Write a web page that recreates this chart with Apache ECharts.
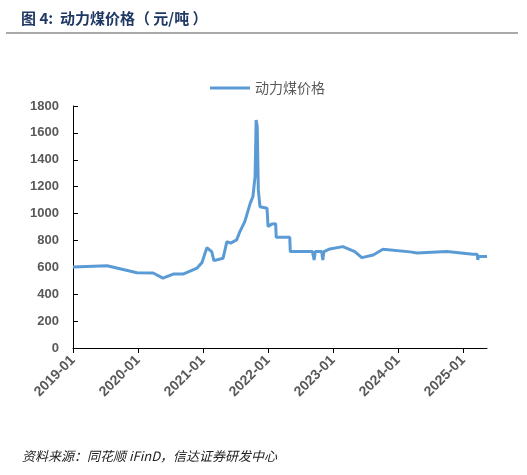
<!DOCTYPE html>
<html>
<head>
<meta charset="utf-8">
<script src="https://cdn.jsdelivr.net/npm/echarts@6/dist/echarts.min.js"></script>
<style>
html,body{margin:0;padding:0;background:#fff}
#chart{width:527px;height:475px}
</style>
</head>
<body>
<div id="chart"></div>
<script>
// months since 2019-01
const months = [0, 6.3, 11.8, 14.8, 16.6, 18.5, 20.3, 22.9, 23.8, 24.7, 25.6, 26, 27.7, 28.4, 29.1, 30.2, 30.8, 31.7, 32.7, 33.2, 33.6, 33.8, 34, 34.2, 34.5, 35.8, 36, 36.7, 37.4, 37.5, 40, 40.1, 44.2, 44.3, 44.5, 44.7, 45.9, 46.1, 46.3, 47.4, 49.8, 52, 53.3, 55.4, 57.2, 62.2, 63.5, 69, 73.8, 74.6, 74.7, 74.8, 76.4]
const prices = [603, 612, 560, 558, 520, 550, 550, 595, 635, 746, 717, 650, 668, 791, 780, 804, 866, 940, 1076, 1126, 1275, 1696, 1646, 1176, 1051, 1040, 903, 923, 924, 823, 823, 717, 717, 717, 655, 717, 717, 655, 717, 737, 754, 717, 672, 692, 734, 715, 707, 717, 697, 697, 655, 680, 680]
const yearLabels = ['2019-01', '2020-01', '2021-01', '2022-01', '2023-01', '2024-01', '2025-01']

const chart = echarts.init(document.getElementById('chart'))
const axisText = { color: '#595959', fontWeight: 'bold', fontSize: 13, fontFamily: 'Arial, Liberation Sans' }
chart.setOption({
  animation: false,
  title: {
    text: '图 4:  动力煤价格（ 元/吨 ）',
    left: 16, top: 6,
    textStyle: { color: '#1f3864', fontSize: 15, fontWeight: 'bold', fontFamily: 'Noto Sans CJK SC' }
  },
  graphic: [
    { type: 'line', shape: { x1: 6, y1: 33, x2: 518, y2: 33 }, style: { stroke: '#555', lineWidth: 1 } },
    { type: 'text', left: 22, top: 450, style: { text: '资料来源：同花顺 iFinD，信达证券研发中心', fill: '#222', fontSize: 13, fontStyle: 'italic', fontFamily: 'Noto Sans CJK SC' } }
  ],
  legend: {
    top: 76, left: 205,
    itemWidth: 40, itemHeight: 3,
    icon: 'rect',
    textStyle: { color: '#595959', fontSize: 14, fontFamily: 'Noto Sans CJK SC' },
    data: ['动力煤价格']
  },
  grid: { left: 73, right: 40, top: 106, bottom: 127 },
  xAxis: {
    type: 'value', min: 0, max: 76.4, interval: 12,
    axisLine: { lineStyle: { color: '#000' } },
    axisTick: { show: true, lineStyle: { color: '#000' } },
    splitLine: { show: false },
    axisLabel: Object.assign({}, axisText, {
      rotate: 45, margin: 10, showMaxLabel: false, fontSize: 14,
      formatter: v => yearLabels[Math.round(v / 12)] || ''
    })
  },
  yAxis: {
    type: 'value', min: 0, max: 1800, interval: 200,
    axisLine: { show: true, lineStyle: { color: '#000' } },
    axisTick: { show: true, inside: true, lineStyle: { color: '#000' } },
    splitLine: { show: false },
    axisLabel: Object.assign({}, axisText, { margin: 14, formatter: v => String(v) })
  },
  series: [{
    name: '动力煤价格', type: 'line', showSymbol: false,
    lineStyle: { color: '#5b9bd5', width: 3 },
    itemStyle: { color: '#5b9bd5' },
    data: months.map((m, i) => [m, prices[i]])
  }]
})
</script>
</body>
</html>
